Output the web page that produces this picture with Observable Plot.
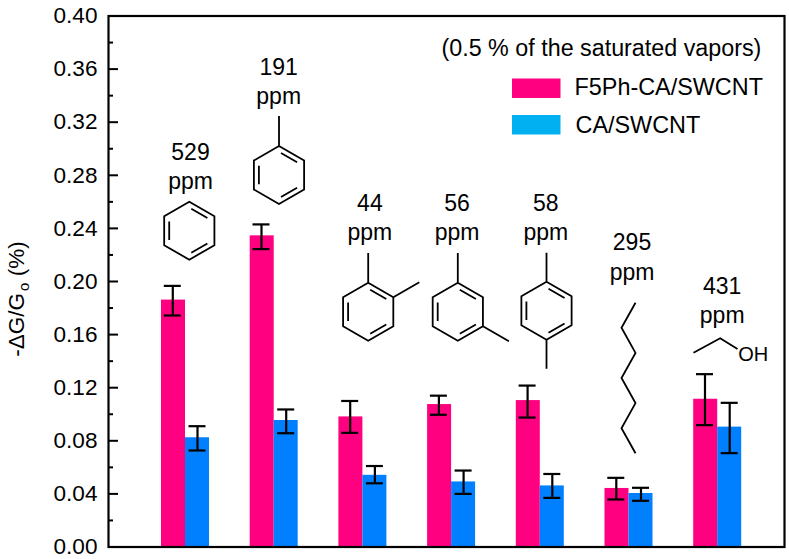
<!DOCTYPE html>
<html><head><meta charset="utf-8">
<script src="https://cdn.jsdelivr.net/npm/d3@7"></script>
<script src="https://cdn.jsdelivr.net/npm/@observablehq/plot@0.6"></script>
<style>html,body{margin:0;background:#fff}svg{display:block}</style>
</head><body><div id="chart"></div>
<script>
const groups = [0,1,2,3,4,5,6];
const ppm = [529,191,44,56,58,295,431];
const f5Values = [0.186,0.2344,0.098,0.1073,0.1103,0.0441,0.1113];
const f5Low    = [0.1744,0.2244,0.086,0.0996,0.0975,0.0358,0.0918];
const f5High   = [0.1967,0.243,0.110,0.114,0.1216,0.0521,0.1302];
const caValues = [0.0823,0.0953,0.054,0.049,0.046,0.0403,0.0903];
const caLow    = [0.0727,0.0857,0.048,0.040,0.037,0.0348,0.0707];
const caHigh   = [0.091,0.1036,0.061,0.0576,0.055,0.0446,0.1086];
const seriesNames = ["F5Ph-CA/SWCNT","CA/SWCNT"];
const majorTicks = [0,0.04,0.08,0.12,0.16,0.2,0.24,0.28,0.32,0.36,0.4];
const minorTicks = [0.02,0.06,0.1,0.14,0.18,0.22,0.26,0.3,0.34,0.38];
const PINK="#ff0080", BLUE="#0080ff", SKY="#00b0f0";
const FONT="'Liberation Sans',Arial,sans-serif";

// layout
const W=789,H=559,mL=108,mR=5,mT=15.5,mB=12.5;
const step=88.7, first=185;
const xDomain=[(mL-first)/step,(W-mR-first)/step];
const barW=24/step, capW=8.5/step;

const rows=(vals,lo,hi,side)=>groups.map(i=>({g:i,v:vals[i],lo:lo[i],hi:hi[i],side}));
const all=[...rows(f5Values,f5Low,f5High,-1),...rows(caValues,caLow,caHigh,1)];
const a=d=>d.g+(d.side<0?-barW:0), b=d=>d.g+(d.side<0?0:barW), c=d=>d.g+d.side*barW/2-(d.side<0?0.008:0);

// annotation offsets
const labelY=[0.2875,0.3515,0.2495,0.2495,0.2495,0.2195,0.1865];
const labelX=[5,4.5,7,5.5,5.5,3,4.5];

function hex(cx,cy,R){
  const pts=d3.range(6).map(k=>{const t=(-90+60*k)*Math.PI/180;return [cx+R*Math.cos(t),cy+R*Math.sin(t)]});
  let s="M"+pts.map(p=>p.join(",")).join("L")+"Z";
  const inner=(i,j)=>{const r=0.8, sh=0.1;
    const A=pts[i],B=pts[j];
    const P=[cx+(A[0]-cx)*r,cy+(A[1]-cy)*r],Q=[cx+(B[0]-cx)*r,cy+(B[1]-cy)*r];
    const d=[Q[0]-P[0],Q[1]-P[1]];
    return `M${P[0]+d[0]*sh},${P[1]+d[1]*sh}L${Q[0]-d[0]*sh},${Q[1]-d[1]*sh}`};
  s+=inner(0,1)+inner(2,3)+inner(4,5);
  return {d:s,pts};
}
function overlay(index,scales,values,dim){
  const g=d3.create("svg:g");
  const X=i=>scales.x(i);
  const stroke=(d,w=1.8)=>g.append("path").attr("d",d).attr("fill","none").attr("stroke","#000").attr("stroke-width",w).attr("stroke-linejoin","miter");
  const R=29;
  stroke(hex(X(0)+4.3,230.7,R).d);
  let h=hex(X(1)+5.3,175,R); stroke(h.d+`M${h.pts[0]}V116`);
  h=hex(X(2)+5.8,311.7,R); stroke(h.d+`M${h.pts[0]}V253M${h.pts[1]}l26,-15`);
  h=hex(X(3)+6.7,311.7,R); stroke(h.d+`M${h.pts[0]}V253M${h.pts[2]}l26,15`);
  h=hex(X(4)+6.7,310.7,R); stroke(h.d+`M${h.pts[0]}V252.7M${h.pts[3]}V368.7`);
  const ox=X(5);
  stroke(d3.range(7).map(k=>`${k?"L":"M"}${ox+(k%2?-7:7)},${302.7+k*25.1}`).join(""));
  const ex=X(6);
  stroke(`M${ex-23.7},352.7L${ex+3},338.3L${ex+20.3},349`);
  g.append("text").attr("x",ex+21).attr("y",361).attr("text-anchor","start").attr("font-size",20).attr("font-family",FONT).text("OH");
  g.append("rect").attr("x",512).attr("y",78.5).attr("width",48.5).attr("height",19.5).attr("fill",PINK);
  g.append("rect").attr("x",512).attr("y",115).attr("width",48.5).attr("height",19.5).attr("fill",SKY);
  const t=g.append("text").attr("transform","translate(24,299) rotate(-90)").attr("text-anchor","middle").attr("font-size",22.5).attr("font-family",FONT);
  t.append("tspan").text("-ΔG/G");
  t.append("tspan").attr("font-size",15).attr("dy",5).attr("dx",2).text("o");
  t.append("tspan").attr("dy",-5).text(" (%)");
  return g.node();
}

const plot=Plot.plot({
  width:W,height:H,marginLeft:mL,marginRight:mR,marginTop:mT,marginBottom:mB,
  style:{fontFamily:FONT,background:"#fff",color:"#000"},
  x:{domain:xDomain,axis:null},
  y:{domain:[0,0.4],label:null},
  marks:[
    Plot.rectY(all.filter(d=>d.side<0),{x1:a,x2:b,y1:0,y2:"v",fill:PINK}),
    Plot.rectY(all.filter(d=>d.side>0),{x1:a,x2:b,y1:0,y2:"v",fill:BLUE}),
    Plot.ruleX(all,{x:c,y1:"lo",y2:"hi",stroke:"#000",strokeWidth:2.2}),
    Plot.ruleY(all,{x1:d=>c(d)-capW,x2:d=>c(d)+capW,y:"lo",stroke:"#000",strokeWidth:2.2}),
    Plot.ruleY(all,{x1:d=>c(d)-capW,x2:d=>c(d)+capW,y:"hi",stroke:"#000",strokeWidth:2.2}),
    Plot.text(groups,{x:d=>d+labelX[d]/step,y:d=>labelY[d],text:d=>`${ppm[d]}\nppm`,fontSize:23,lineHeight:1.27,lineAnchor:"middle",fill:"#000"}),
    Plot.text(["(0.5 % of the saturated vapors)"],{frameAnchor:"top-left",dx:333,dy:33,fontSize:23.3,textAnchor:"start",lineAnchor:"middle",fill:"#000"}),
    Plot.text([seriesNames[0]],{frameAnchor:"top-left",dx:466,dy:71.5,fontSize:23.4,textAnchor:"start",lineAnchor:"middle",fill:"#000"}),
    Plot.text([seriesNames[1]],{frameAnchor:"top-left",dx:467,dy:109.5,fontSize:23.4,textAnchor:"start",lineAnchor:"middle",fill:"#000"}),
    Plot.axisY({ticks:majorTicks,tickSize:0,tickPadding:11,tickFormat:d3.format(".2f"),fontSize:22.6,label:null,anchor:"left"}),
    Plot.ruleY(majorTicks.slice(1,-1),{x1:xDomain[0],x2:xDomain[0]+10/step,y:d=>d,stroke:"#000",strokeWidth:2}),
    Plot.ruleY(minorTicks,{x1:xDomain[0],x2:xDomain[0]+5/step,y:d=>d,stroke:"#000",strokeWidth:2}),
    Plot.frame({stroke:"#000",strokeWidth:2.2}),
    overlay
  ]
});
document.getElementById("chart").append(plot);
</script></body></html>
